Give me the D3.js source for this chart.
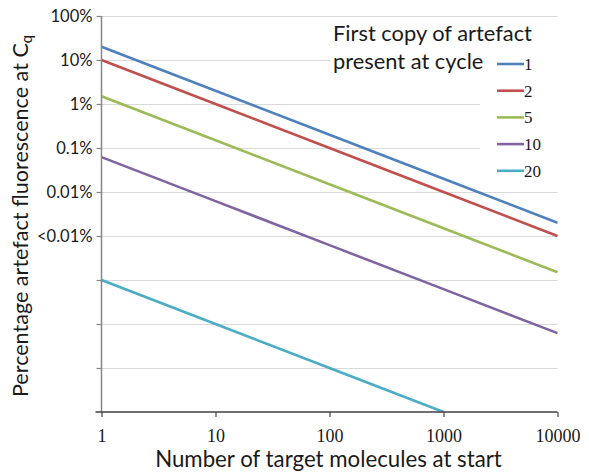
<!DOCTYPE html>
<html>
<head>
<meta charset="utf-8">
<script src="https://cdn.jsdelivr.net/npm/d3@7"></script>
<style>
  body { margin: 0; background: #fff; }
  text { font-family: Lato, "Noto Sans", sans-serif; fill: #1a1a1a; }
</style>
</head>
<body>
<svg id="chart" width="589" height="476"></svg>
<script>
// x: starting target molecules, y: artefact fluorescence (%)
const xValues = [1, 10, 100, 1000, 10000];
const cycles = ["1", "2", "5", "10", "20"];
const colors = ["#4f81bd", "#c0504d", "#9bbb59", "#8064a2", "#4bacc6"];

const cycle1  = [20, 2, 0.2, 0.02, 0.002];
const cycle2  = [10, 1, 0.1, 0.01, 0.001];
const cycle5  = [1.5, 0.15, 0.015, 0.0015, 0.00015];
const cycle10 = [0.062, 0.0062, 0.00062, 0.000062, 0.0000062];
const cycle20 = [0.0001, 0.00001, 0.000001, 0.0000001];
const seriesValues = [cycle1, cycle2, cycle5, cycle10, cycle20];

const yTickValues = [100, 10, 1, 0.1, 0.01, 0.001, 0.0001, 0.00001, 0.000001];
const yTickLabels = ["100%", "10%", "1%", "0.1%", "0.01%", "<0.01%", "", "", ""];
const xTickLabels = ["1", "10", "100", "1000", "10000"];

const svg = d3.select("#chart");
const plotL = 101.5, plotR = 557.5, plotT = 16, plotB = 412;

// scale a text's font so it spans the given width
function fitWidth(sel, target) {
  const fs = parseFloat(sel.attr("font-size"));
  const w = sel.node().getComputedTextLength();
  const nfs = fs * target / w;
  sel.attr("font-size", nfs);
  return nfs;
}

const x = d3.scaleLog().domain([1, 10000]).range([plotL, plotR]);
const y = d3.scaleLog().domain([1e-7, 100]).range([plotB, plotT]);

// gridlines
svg.append("g")
  .selectAll("line")
  .data(yTickValues)
  .join("line")
  .attr("x1", plotL).attr("x2", plotR)
  .attr("y1", d => Math.round(y(d)) + 0.5)
  .attr("y2", d => Math.round(y(d)) + 0.5)
  .attr("stroke", "#d9d9d9")
  .attr("stroke-width", 1.2);

// legend background hides gridlines
svg.append("rect").attr("x", 330).attr("y", 22).attr("width", 228).attr("height", 60).attr("fill", "#fff");
svg.append("rect").attr("x", 480).attr("y", 80).attr("width", 78).attr("height", 102).attr("fill", "#fff");

svg.append("clipPath").attr("id", "plot")
  .append("rect").attr("x", plotL).attr("y", plotT - 5).attr("width", plotR - plotL + 2).attr("height", plotB - plotT + 5);

const line = d3.line()
  .x((d, i) => x(xValues[i]))
  .y(d => y(d));

svg.append("g").attr("clip-path", "url(#plot)")
  .selectAll("path")
  .data(seriesValues)
  .join("path")
  .attr("d", line)
  .attr("fill", "none")
  .attr("stroke", (d, i) => colors[i])
  .attr("stroke-width", 2.6);

// y axis
const yAxis = svg.append("g")
  .attr("transform", `translate(${plotL},0)`)
  .call(d3.axisLeft(y).tickValues(yTickValues).tickSize(5).tickPadding(4)
    .tickFormat((d, i) => yTickLabels[i]));
yAxis.select(".domain").attr("stroke", "#868686").attr("stroke-width", 1.5).attr("d", `M0,${plotT}V${plotB}`);
yAxis.selectAll(".tick line").attr("stroke", "#868686").attr("stroke-width", 1.2);
const yLabels = yAxis.selectAll(".tick text").attr("font-size", 16).attr("fill", "#1a1a1a")
  .attr("dy", "0.34em")
  .style("font-family", "Lato, sans-serif");
const yfs = fitWidth(yLabels.filter((d, i) => i === 4), 46);
yLabels.attr("font-size", yfs);

// x axis
const xAxis = svg.append("g")
  .attr("transform", `translate(0,${plotB})`)
  .call(d3.axisBottom(x).tickValues(xValues).tickSize(5).tickPadding(0)
    .tickFormat((d, i) => xTickLabels[i]));
xAxis.select(".domain").attr("stroke", "#404040").attr("stroke-width", 1.3).attr("d", `M${plotL - 6},0H${plotR}`);
xAxis.selectAll(".tick line").attr("stroke", "#404040").attr("stroke-width", 1.2);
xAxis.selectAll(".tick text").attr("font-size", 18).attr("fill", "#1a1a1a")
  .attr("y", 30).attr("dy", 0)
  .style("font-family", "'Liberation Serif', serif");

// axis titles
const xTitle = svg.append("text")
  .attr("x", 328.5).attr("y", 467)
  .attr("text-anchor", "middle")
  .attr("font-size", 20)
  .text("Number of target molecules at start");
fitWidth(xTitle, 347);

const yTitle = svg.append("text")
  .attr("transform", "translate(28,216) rotate(-90)")
  .attr("text-anchor", "middle")
  .attr("font-size", 20);
yTitle.append("tspan").text("Percentage artefact fluorescence at C");
const ySub = yTitle.append("tspan").attr("dy", 4).text("q");
const ytfs = fitWidth(yTitle, 366);
ySub.attr("font-size", ytfs * 0.68);

// legend
const lt1 = svg.append("text").attr("x", 333).attr("y", 41).attr("font-size", 20).text("First copy of artefact");
const lfs = fitWidth(lt1, 199);
svg.append("text").attr("x", 333).attr("y", 68.5).attr("font-size", lfs).text("present at cycle");

const legend = svg.append("g")
  .selectAll("g")
  .data(cycles)
  .join("g")
  .attr("transform", (d, i) => `translate(497,${64 + i * 26.7})`);
legend.append("line")
  .attr("x1", 0).attr("x2", 27)
  .attr("stroke", (d, i) => colors[i])
  .attr("stroke-width", 2.6);
legend.append("text")
  .attr("x", 27).attr("y", 6)
  .attr("font-size", 17)
  .style("font-family", "'Liberation Serif', serif")
  .text(d => d);
</script>
</body>
</html>
